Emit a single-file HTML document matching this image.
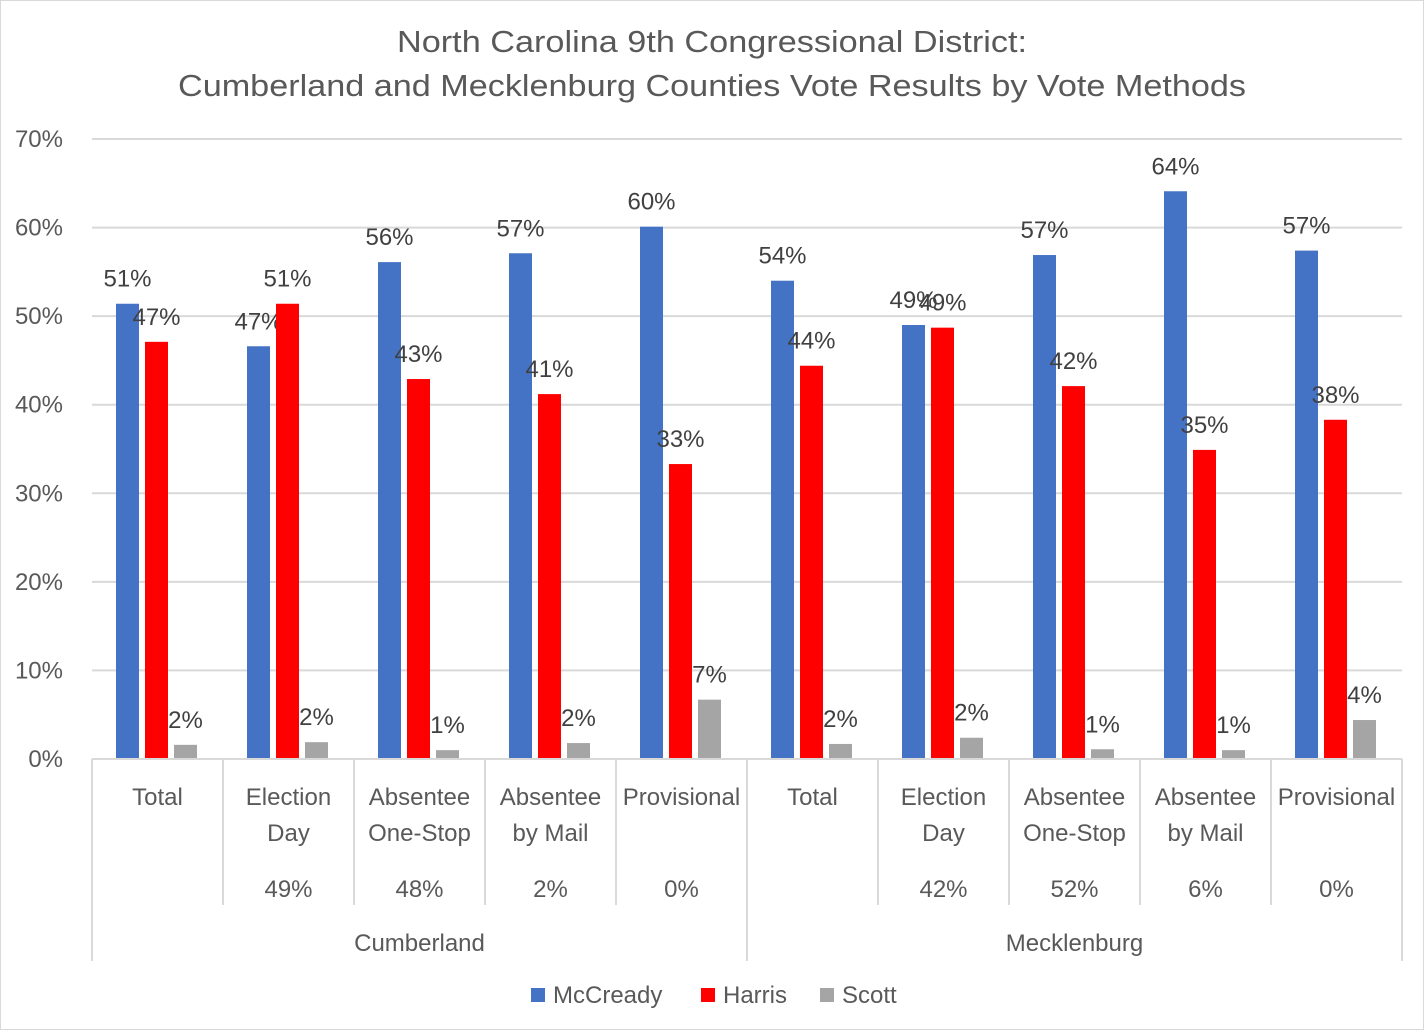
<!DOCTYPE html>
<html><head><meta charset="utf-8"><style>
body{margin:0;background:#fff}
svg{display:block;font-family:"Liberation Sans",sans-serif}
</style></head><body>
<svg id="chart" width="1425" height="1031" viewBox="0 0 1425 1031" xmlns="http://www.w3.org/2000/svg">
<rect x="0.5" y="0.5" width="1423" height="1029" fill="#fff" stroke="#d9d9d9"/>
<text x="712" y="52" text-anchor="middle" font-size="31" fill="#595959" textLength="630" lengthAdjust="spacingAndGlyphs">North Carolina 9th Congressional District:</text>
<text x="712" y="96" text-anchor="middle" font-size="31" fill="#595959" textLength="1068" lengthAdjust="spacingAndGlyphs">Cumberland and Mecklenburg Counties Vote Results by Vote Methods</text>
<g id="grid"></g><g id="bars"></g><g id="axis"></g>
<g>
<rect x="531" y="988" width="14" height="14" fill="#4472c4"/>
<text x="553" y="1003" font-size="24" fill="#595959">McCready</text>
<rect x="701" y="988" width="14" height="14" fill="#ff0000"/>
<text x="723" y="1003" font-size="24" fill="#595959">Harris</text>
<rect x="820" y="988" width="14" height="14" fill="#a5a5a5"/>
<text x="842" y="1003" font-size="24" fill="#595959">Scott</text>
</g>
</svg>
<script>
const categories=[["Total"],["Election","Day"],["Absentee","One-Stop"],["Absentee","by Mail"],["Provisional"],["Total"],["Election","Day"],["Absentee","One-Stop"],["Absentee","by Mail"],["Provisional"]];
const shares=["","49%","48%","2%","0%","","42%","52%","6%","0%"];
const counties=["Cumberland","Mecklenburg"];
const mccready=[51.4,46.6,56.1,57.1,60.1,54.0,49.0,56.9,64.1,57.4];
const harris=[47.1,51.4,42.9,41.2,33.3,44.4,48.7,42.1,34.9,38.3];
const scott=[1.6,1.9,1.0,1.8,6.7,1.7,2.4,1.1,1.0,4.4];
const yTicks=[0,10,20,30,40,50,60,70];
const NS="http://www.w3.org/2000/svg";
const x0=92,x1=1402,y0=759,yTop=139,yMax=70;
const gw=(x1-x0)/categories.length;
function y(v){return y0-(v/yMax)*(y0-yTop);}
function mk(tag,attrs,parent,txt){const e=document.createElementNS(NS,tag);for(const k in attrs)e.setAttribute(k,attrs[k]);if(txt!==undefined)e.textContent=txt;parent.appendChild(e);return e;}
const grid=document.getElementById('grid'),bars=document.getElementById('bars'),axis=document.getElementById('axis');
yTicks.forEach(t=>{
  if(t>0){const l=mk('line',{x1:x0,x2:x1,y1:y(t),y2:y(t),stroke:'#d9d9d9','stroke-width':2},grid);
  
  }
  const tx=mk('text',{x:63,y:y(t)+8,'text-anchor':'end','font-size':24,fill:'#595959'},grid,t+'%');
  
  
});
const series=[[mccready,'#4472c4','mccready',24],[harris,'#ff0000','harris',53],[scott,'#a5a5a5','scott',82]];
categories.forEach((c,i)=>{
  const gx=x0+i*gw;
  series.forEach(([vals,col,nm,off])=>{
    const v=vals[i];
    const r=mk('rect',{x:gx+off,y:y(v),width:23,height:y0-y(v),fill:col},bars);
    
    
    const t=mk('text',{x:gx+off+11.5,y:y(v)-17,'text-anchor':'middle','font-size':24,fill:'#404040'},bars,Math.round(v)+'%');
    
    
  });
  c.forEach((w,j)=>{
    const t=mk('text',{x:gx+gw/2,y:805+j*36,'text-anchor':'middle','font-size':24,fill:'#595959'},axis,w);
    
    
  });
  if(shares[i]){const t=mk('text',{x:gx+gw/2,y:897,'text-anchor':'middle','font-size':24,fill:'#595959'},axis,shares[i]);
    
    }
});
for(let i=0;i<=categories.length;i++){
  const outer=(i%5===0);
  const l=mk('line',{x1:x0+i*gw,x2:x0+i*gw,y1:y0,y2:outer?961:905,stroke:'#d9d9d9','stroke-width':2},axis);
  
  
}
const ax=mk('line',{x1:x0,x2:x1,y1:y0,y2:y0,stroke:'#d9d9d9','stroke-width':2},axis);


counties.forEach((c,k)=>{
  const t=mk('text',{x:x0+(k*5+2.5)*gw,y:951,'text-anchor':'middle','font-size':24,fill:'#595959'},axis,c);
  
  
});
</script>
</body></html>
